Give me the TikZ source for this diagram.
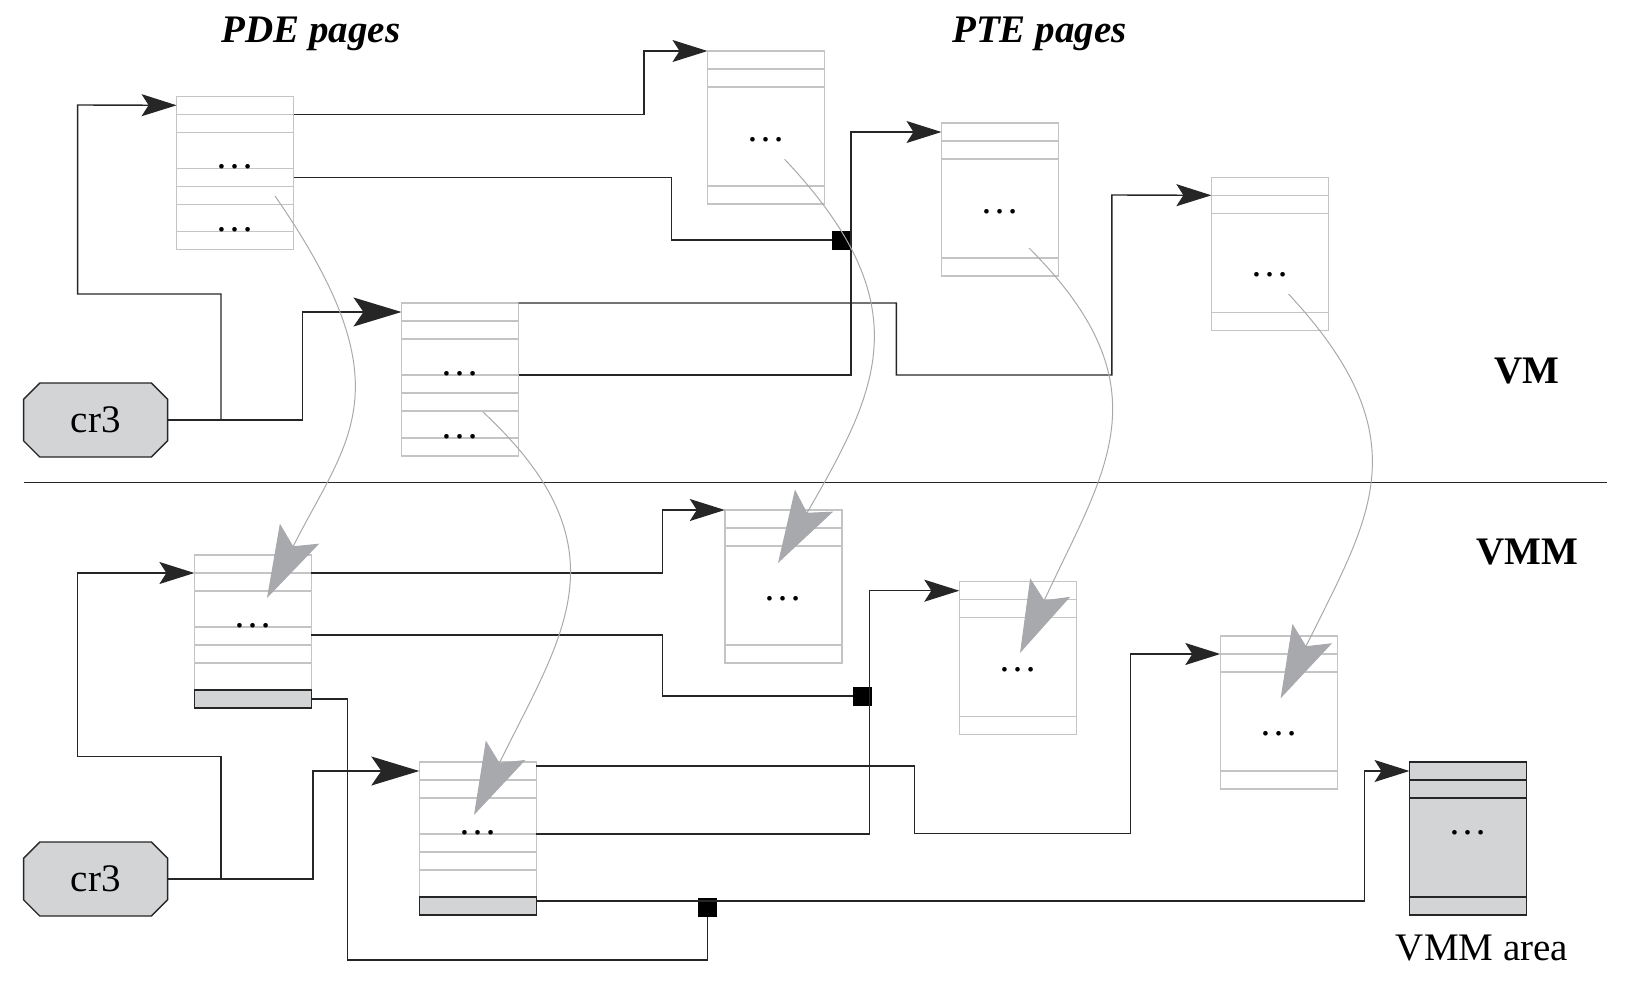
\documentclass[tikz,border=0pt]{standalone}
\usepackage{fontspec}
\setmainfont{Liberation Serif}
\usepackage{tikz}
\usetikzlibrary{arrows.meta,shapes.misc}
\definecolor{boxgray}{HTML}{C4C4C4}
\definecolor{fillgray}{HTML}{D3D4D6}
\definecolor{curvegray}{HTML}{A8A9AC}
\definecolor{linedark}{HTML}{262626}
\newcommand*{\bigfont}{\fontsize{39}{46}\selectfont}
% a page of entries: name, top left corner, row lines, extra style
\newcommand*{\pagebox}[4]{%
	\node[page,#4] (#1) at (#2) {};
	\foreach \r in {#3}
		\draw[row,#4] ([yshift=-\r]#1.north west) -- ([yshift=-\r]#1.north east);
}
\newcommand*{\pagedots}[2]{\node[dots] (#1dots#2) at ([yshift=-#2]#1.north) {\ldots};}

\begin{document}
\begin{tikzpicture}[x=1pt,y=-1pt,
		page/.style={draw=boxgray, line width=1.4pt, minimum width=117pt, minimum height=153pt,
			anchor=north west, inner sep=0pt, outer sep=0pt},
		row/.style={draw=boxgray, line width=1.4pt},
		vmmarea/.style={draw=linedark, fill=fillgray},
		dots/.style={anchor=base, inner sep=0pt, font=\bigfont},
		regnode/.style={chamfered rectangle, chamfered rectangle xsep=17pt, draw=linedark, fill=fillgray,
			line width=1.4pt, minimum width=144pt, minimum height=74pt, inner sep=0pt, font=\bigfont},
		link/.style={draw=linedark, line width=1.4pt},
		tip/.style={-{Stealth[length=35pt,width=22pt,inset=7pt]}},
		bigtip/.style={-{Stealth[length=48pt,width=29pt,inset=10pt]}},
		map/.style={draw=curvegray, line width=1pt, -{Stealth[length=72pt,width=44pt,inset=14pt,fill=curvegray]}},
		junction/.style={fill=black, minimum size=19pt, inner sep=0pt},
		bar/.style={draw=linedark, fill=fillgray, line width=1.4pt},
		title/.style={anchor=base, font=\bigfont\bfseries\itshape},
		side/.style={anchor=base, font=\bigfont\bfseries},
		caption/.style={anchor=base, font=\bigfont}]
	\useasboundingbox (0,0) rectangle (1644,980);

	% VM side
	\pagebox{pdeA}{176.6,96.3}{18,36,72,90,108,135}{}
	\pagebox{pdeB}{401.5,303}{18,36,72,90,108,135}{}
	\pagebox{pteA}{707.5,51}{18,36,135}{}
	\pagebox{pteB}{941.5,123}{18,36,135}{}
	\pagebox{pteC}{1211.4,177.3}{18,36,135}{}
	\pagedots{pdeA}{72} \pagedots{pdeA}{135}
	\pagedots{pdeB}{72} \pagedots{pdeB}{135}
	\pagedots{pteA}{90} \pagedots{pteB}{90} \pagedots{pteC}{99}
	\node[regnode] (cr3a) at (95.6,420) {cr3};
	\node[junction] (sq1) at (841.4,240) {};

	% VMM side
	\pagebox{pdeC}{194.4,555}{18,36,72,90,108}{}
	\pagebox{pdeD}{419.3,762}{18,36,72,90,108}{}
	\pagebox{pteD}{724.8,510}{18,36,135}{}
	\pagebox{pteE}{959.3,581.7}{18,36,135}{}
	\pagebox{pteF}{1220.3,636}{18,36,135}{}
	\pagebox{area}{1409.5,762}{18,36,135}{vmmarea}
	\draw[bar] ([yshift=-135]pdeC.north west) rectangle (pdeC.south east);
	\draw[bar] ([yshift=-135]pdeD.north west) rectangle (pdeD.south east);
	\pagedots{pdeC}{72} \pagedots{pdeD}{72}
	\pagedots{pteD}{90} \pagedots{pteE}{90} \pagedots{pteF}{99}
	\pagedots{area}{72}
	\node[regnode] (cr3b) at (95.6,879) {cr3};
	\node[junction] (sq2) at (862.6,696) {};
	\node[junction] (sq3) at (707.3,907) {};

	\node[title] (pdelbl) at (311,42) {PDE pages};
	\node[title] (ptelbl) at (1039.5,42) {PTE pages};
	\node[side] (vmlbl) at (1527,383) {VM};
	\node[side] (vmmlbl) at (1527,564) {VMM};
	\node[caption] (arealbl) at (1482,960) {VMM area};

	\draw[link] (23.6,482.7) -- (1606.6,482.7);

	\draw[link,tip] (cr3a.east) -| (221,294) -| (77.6,105) -- ([yshift=-9]pdeA.north west);
	\draw[link,bigtip] (cr3a.east) -| (302.4,312) -- ([yshift=-9]pdeB.north west);
	\draw[link,tip] ([yshift=-18]pdeA.north east) -| (644,51) -- (pteA.north west);
	\draw[link] ([yshift=-81]pdeA.north east) -| (671.4,240) -- (sq1);
	\draw[link,tip] ([yshift=-72]pdeB.north east) -| (850.8,132) -- ([yshift=-9]pteB.north west);
	\draw[link,tip] (pdeB.north east) -| (896.4,375) -| (1111.8,195) -- ([yshift=-18]pteC.north west);

	\draw[link,tip] (cr3b.east) -| (221,756.7) -| (77.6,573) -- ([yshift=-18]pdeC.north west);
	\draw[link,bigtip] (cr3b.east) -| (312.9,771) -- ([yshift=-9]pdeD.north west);
	\draw[link,tip] ([yshift=-18]pdeC.north east) -| (662.5,510) -- (pteD.north west);
	\draw[link] ([yshift=-80]pdeC.north east) -| (662.5,696) -- (sq2);
	\draw[link] ([yshift=-144]pdeC.north east) -| (347.5,960) -| (sq3);
	\draw[link,tip] ([yshift=-72]pdeD.north east) -| (869.7,590.7) -- ([yshift=-9]pteE.north west);
	\draw[link,tip] ([yshift=-4]pdeD.north east) -| (914.2,833.3) -| (1130.2,654) -- ([yshift=-18]pteF.north west);
	\draw[link,tip] ([yshift=-139]pdeD.north east) -| (1364.5,771) -- ([yshift=-9]area.north west);

	% VM pages mapped into VMM pages
	\coordinate (srcA) at (275,196);    \coordinate (dstA) at (267,598);
	\coordinate (srcB) at (483,412);    \coordinate (dstB) at (474,815);
	\coordinate (srcC) at (784.6,159.3); \coordinate (dstC) at (778,563);
	\coordinate (srcD) at (1029,248);   \coordinate (dstD) at (1020,653);
	\coordinate (srcE) at (1288.5,294); \coordinate (dstE) at (1280.6,698.3);
	\draw[map] (srcA) .. controls (408,388) and (348,438) .. (dstA);
	\draw[map] (srcB) .. controls (629,548) and (562,635) .. (dstB);
	\draw[map] (srcC) .. controls (922.6,305.3) and (878,390) .. (dstC);
	\draw[map] (srcD) .. controls (1169,388) and (1104,471) .. (dstD);
	\draw[map] (srcE) .. controls (1424.5,440) and (1368.6,518.3) .. (dstE);
\end{tikzpicture}
\end{document}
